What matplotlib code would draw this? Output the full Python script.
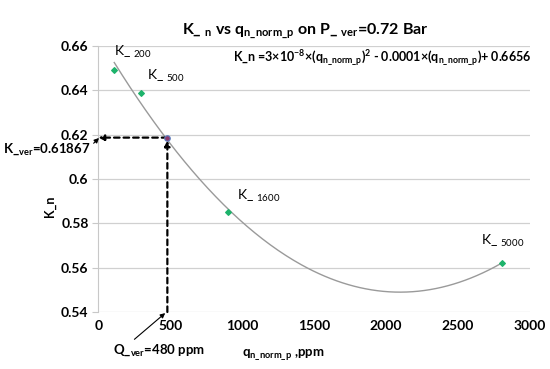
import numpy as np
import matplotlib
matplotlib.use('Agg')
import matplotlib.pyplot as plt

plt.rcParams['font.family'] = ['Lato', 'DejaVu Sans']
plt.rcParams['mathtext.default'] = 'regular'

# data
q_points = [111, 297, 903, 2807]
k_points = [0.6491, 0.6389, 0.5849, 0.5623]
point_names = ['200', '500', '1600', '5000']
q_ver = 480
k_ver = 0.61867
x_ticks = [0, 500, 1000, 1500, 2000, 2500, 3000]
y_ticks = [0.54, 0.56, 0.58, 0.6, 0.62, 0.64, 0.66]

# 2nd order trendline, as the spreadsheet did
coef = np.polyfit(q_points, k_points, 2)
q_fit = np.linspace(min(q_points), max(q_points), 200)
k_fit = np.polyval(coef, q_fit)

fig = plt.figure(figsize=(5.5, 3.69), dpi=100)
ax = fig.add_axes([0.1787, 0.1545, 0.9636 - 0.1787, 0.8753 - 0.1545])

ax.plot(q_fit, k_fit, color='#9a9a9a', lw=1.0, zorder=3)
ax.scatter(q_points, k_points, marker='D', s=8, color='#1db36b', zorder=4)

# construction lines for the verification point
ax.annotate('', xy=(0, k_ver), xytext=(q_ver, k_ver),
            arrowprops=dict(arrowstyle='-|>', color='black', lw=1.6, ls=(0, (2.5, 1.8)),
                            shrinkA=0, shrinkB=0, mutation_scale=8), zorder=5)
ax.annotate('', xy=(q_ver, k_ver), xytext=(q_ver, 0.54),
            arrowprops=dict(arrowstyle='-|>', color='black', lw=1.6, ls=(0, (2.5, 1.8)),
                            shrinkA=0, shrinkB=2, mutation_scale=8), zorder=5)
ax.scatter([q_ver], [k_ver], s=16, color='#8e3a6e', edgecolor='#5b7fc0', lw=0.8, zorder=6)

offsets = {'200': (0, 0.0045), '500': (45, 0.004), '1600': (60, 0.004), '5000': (-150, 0.006)}
for q, k, name in zip(q_points, k_points, point_names):
    dx, dy = offsets[name]
    ax.text(q + dx, k + dy, 'K_ $_{%s}$' % name, fontsize=10, ha='left', va='bottom')

ax.text(3010, 0.6545, 'K_n =3×10$^{-8}$×(q$_{n\\_norm\\_p}$)$^{2}$ - 0.0001×(q$_{n\\_norm\\_p}$)+ 0.6656',
        fontsize=9, fontweight='bold', ha='right', va='center')

ax.set_xlim(0, 3000)
ax.set_ylim(0.54, 0.66)
ax.set_xticks(x_ticks)
ax.set_yticks(y_ticks)
ax.set_xticklabels([str(t) for t in x_ticks], fontsize=10, fontweight='bold')
ax.set_yticklabels(['%g' % t for t in y_ticks], fontsize=10, fontweight='bold')
ax.grid(axis='y', color='#d0d0d0', lw=0.9)
ax.set_axisbelow(True)
for s in ['top', 'right', 'bottom']:
    ax.spines[s].set_visible(False)
ax.spines['left'].set_color('#c8c8c8')
ax.tick_params(axis='both', length=4, color='#c8c8c8', pad=3)
ax.tick_params(axis='x', length=0, pad=6)

fig.text(0.555, 0.915, 'K_ $_{n}$ vs q$_{n\\_norm\\_p}$ on P_ $_{ver}$=0.72 Bar',
         fontsize=11.5, fontweight='bold', ha='center', va='center')
fig.text(0.09, 0.44, 'K_n', rotation=90, fontsize=9, fontweight='bold', ha='center', va='center')
fig.text(0.515, 0.018, 'q$_{n\\_norm\\_p}$ ,ppm', fontsize=9.5, fontweight='bold', ha='center', va='bottom')

ax.annotate('K_$_{ver}$=0.61867', xy=(5, 0.6185), xycoords='data',
            xytext=(0.006, 0.596), textcoords='figure fraction',
            fontsize=9.5, fontweight='bold', ha='left', va='center',
            arrowprops=dict(arrowstyle='-|>', color='black', lw=0.8, mutation_scale=7,
                            shrinkA=0, shrinkB=0, relpos=(1.0, 0.7)))
ax.annotate('Q_$_{ver}$=480 ppm', xy=(465, 0.5395), xycoords='data',
            xytext=(0.205, 0.052), textcoords='figure fraction',
            fontsize=9.5, fontweight='bold', ha='left', va='center',
            arrowprops=dict(arrowstyle='-|>', color='black', lw=0.8, mutation_scale=7,
                            shrinkA=0, shrinkB=0, relpos=(0.2, 1.0)),
            annotation_clip=False)

fig.savefig('out.png', dpi=100)
